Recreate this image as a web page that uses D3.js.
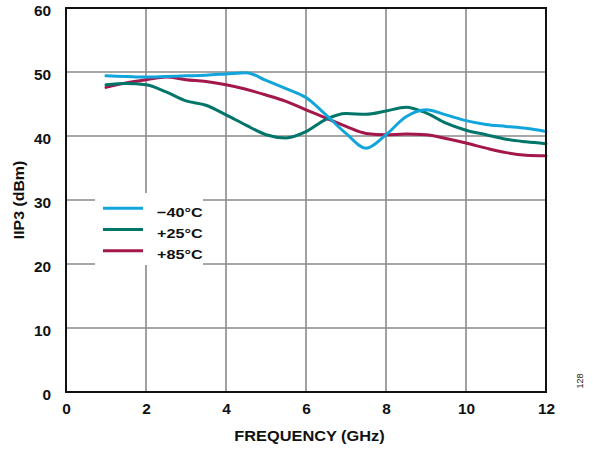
<!DOCTYPE html>
<html><head><meta charset="utf-8">
<script src="https://cdn.jsdelivr.net/npm/d3@7"></script>
<style>body{margin:0;background:#fff}svg{display:block;font-family:"Liberation Sans",Arial,sans-serif}</style>
</head><body><svg id="c" width="593" height="450"></svg>
<script>
const freq = [1,1.5,2,2.5,3,3.5,4,4.5,5,5.5,6,6.5,7,7.5,8,8.5,9,9.5,10,10.5,11,11.5,12];
const minus40 = [49.4,49.3,49.2,49.3,49.4,49.5,49.7,49.9,48.7,47.4,46.0,43.3,40.4,38.1,40.2,43.0,44.1,43.3,42.4,41.8,41.5,41.2,40.7];
const plus25 = [48.0,48.2,48.0,46.9,45.5,44.8,43.3,41.7,40.2,39.7,40.7,42.6,43.5,43.4,43.9,44.5,43.6,42.0,40.9,40.2,39.5,39.1,38.8];
const plus85 = [47.6,48.3,48.8,49.2,48.8,48.5,48.0,47.3,46.4,45.4,44.1,42.8,41.5,40.4,40.2,40.3,40.2,39.6,38.9,38.1,37.4,37.0,36.9];
const seriesNames = ["\u221240\u00b0C","+25\u00b0C","+85\u00b0C"];
const seriesColors = ["#12a5dc","#00766b","#a3174b"];
const xTicks = [0,2,4,6,8,10,12];
const yTicks = [0,10,20,30,40,50,60];

const svg = d3.select("#c");
const L=66,R=546,T=8,B=392;
const x = d3.scaleLinear().domain([0,12]).range([L,R]);
const y = d3.scaleLinear().domain([0,60]).range([B,T]);

// grid
svg.append("g").selectAll("line").data(xTicks.slice(1,-1)).join("line")
  .attr("x1",d=>x(d)).attr("x2",d=>x(d)).attr("y1",T).attr("y2",B)
  .attr("stroke","#8a8a8a").attr("stroke-width",1.6);
svg.append("g").selectAll("line").data(yTicks.slice(1,-1)).join("line")
  .attr("y1",d=>y(d)).attr("y2",d=>y(d)).attr("x1",L).attr("x2",R)
  .attr("stroke","#8a8a8a").attr("stroke-width",1.6);

// legend background
svg.append("rect").attr("x",95).attr("y",193).attr("width",108).attr("height",72).attr("fill","#fff");

// lines
const data = [minus40, plus25, plus85];
const line = d3.line().x((d,i)=>x(freq[i])).y(d=>y(d)).curve(d3.curveMonotoneX);
[2,1,0].forEach(k=>{
  svg.append("path").datum(data[k]).attr("d",line).attr("fill","none")
    .attr("stroke",seriesColors[k]).attr("stroke-width",3).attr("stroke-linecap","round");
});

// frame
svg.append("rect").attr("x",L).attr("y",T).attr("width",R-L).attr("height",B-T)
  .attr("fill","none").attr("stroke","#111").attr("stroke-width",2);

const FF = "'Liberation Sans',Arial,sans-serif";
// axes labels
const xAxis = d3.axisBottom(x).tickValues(xTicks).tickSize(0).tickPadding(0).tickFormat(d3.format("d"));
const gx = svg.append("g").attr("transform",`translate(0,${B})`).call(xAxis);
gx.select(".domain").remove();
gx.selectAll("text").attr("font-size",14).attr("font-weight","bold").attr("fill","#111")
  .attr("font-family",FF).attr("y",21.8).attr("dy",0).attr("transform","scale(1.1,1)");
const yAxis = d3.axisLeft(y).tickValues(yTicks).tickSize(0).tickPadding(0).tickFormat(d3.format("d"));
const gy = svg.append("g").attr("transform",`translate(${L},0)`).call(yAxis);
gy.select(".domain").remove();
gy.selectAll("text").attr("font-size",14).attr("font-weight","bold").attr("fill","#111")
  .attr("font-family",FF).attr("x",-13.6).attr("dy",7).attr("transform","scale(1.1,1)");

function stretched(tx,ty,rot,sx,txt,size,weight,anchor){
  const g = svg.append("g").attr("transform",`translate(${tx},${ty}) rotate(${rot}) scale(${sx},1)`);
  return g.append("text").attr("text-anchor",anchor).attr("font-size",size)
    .attr("font-weight",weight).attr("fill","#111").attr("font-family",FF).text(txt);
}
stretched(309.5,440.5,0,1.09,"FREQUENCY (GHz)",15,"bold","middle");
stretched(24,200,-90,1.06,"IIP3 (dBm)",15,"bold","middle");
stretched(582.5,381,-90,1,"128",9,"normal","middle").attr("fill","#222");

// legend
seriesNames.forEach((n,i)=>{
  const yy = 208.3 + i*21.2;
  svg.append("line").attr("x1",103).attr("x2",143).attr("y1",yy).attr("y2",yy)
    .attr("stroke",seriesColors[i]).attr("stroke-width",3);
  stretched(157,yy+8.5,0,1.2,n,13.5,"bold","start");
});
</script></body></html>
